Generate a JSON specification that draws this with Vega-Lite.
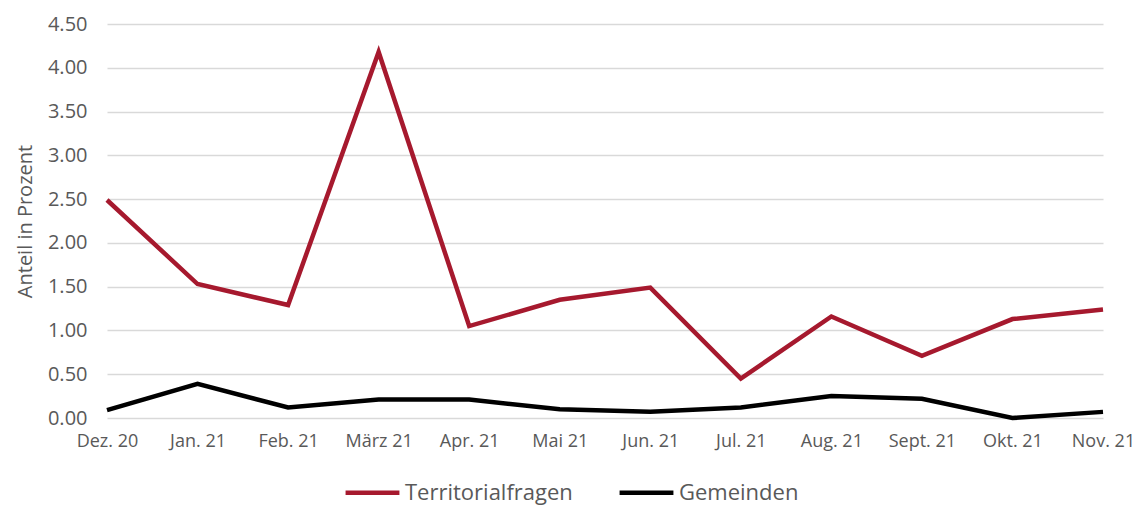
{
  "$schema": "https://vega.github.io/schema/vega-lite/v6.json",
  "width": 996,
  "height": 394,
  "autosize": {"type": "none"},
  "padding": {"left": 107, "top": 24, "right": 34, "bottom": 88},
  "background": "white",
  "config": {"view": {"stroke": null}, "font": "Open Sans"},
  "data": {"values": [
    {"monat": "Dez. 20", "i": 0, "serie": "Territorialfragen", "wert": 2.49},
    {"monat": "Jan. 21", "i": 1, "serie": "Territorialfragen", "wert": 1.53},
    {"monat": "Feb. 21", "i": 2, "serie": "Territorialfragen", "wert": 1.29},
    {"monat": "März 21", "i": 3, "serie": "Territorialfragen", "wert": 4.18},
    {"monat": "Apr. 21", "i": 4, "serie": "Territorialfragen", "wert": 1.05},
    {"monat": "Mai 21", "i": 5, "serie": "Territorialfragen", "wert": 1.35},
    {"monat": "Jun. 21", "i": 6, "serie": "Territorialfragen", "wert": 1.49},
    {"monat": "Jul. 21", "i": 7, "serie": "Territorialfragen", "wert": 0.45},
    {"monat": "Aug. 21", "i": 8, "serie": "Territorialfragen", "wert": 1.16},
    {"monat": "Sept. 21", "i": 9, "serie": "Territorialfragen", "wert": 0.71},
    {"monat": "Okt. 21", "i": 10, "serie": "Territorialfragen", "wert": 1.13},
    {"monat": "Nov. 21", "i": 11, "serie": "Territorialfragen", "wert": 1.24},
    {"monat": "Dez. 20", "i": 0, "serie": "Gemeinden", "wert": 0.09},
    {"monat": "Jan. 21", "i": 1, "serie": "Gemeinden", "wert": 0.39},
    {"monat": "Feb. 21", "i": 2, "serie": "Gemeinden", "wert": 0.12},
    {"monat": "März 21", "i": 3, "serie": "Gemeinden", "wert": 0.21},
    {"monat": "Apr. 21", "i": 4, "serie": "Gemeinden", "wert": 0.21},
    {"monat": "Mai 21", "i": 5, "serie": "Gemeinden", "wert": 0.10},
    {"monat": "Jun. 21", "i": 6, "serie": "Gemeinden", "wert": 0.07},
    {"monat": "Jul. 21", "i": 7, "serie": "Gemeinden", "wert": 0.12},
    {"monat": "Aug. 21", "i": 8, "serie": "Gemeinden", "wert": 0.25},
    {"monat": "Sept. 21", "i": 9, "serie": "Gemeinden", "wert": 0.22},
    {"monat": "Okt. 21", "i": 10, "serie": "Gemeinden", "wert": 0.00},
    {"monat": "Nov. 21", "i": 11, "serie": "Gemeinden", "wert": 0.07}
  ]},
  "mark": {"type": "line", "strokeWidth": 4.5, "strokeJoin": "miter", "strokeCap": "butt"},
  "encoding": {
    "x": {
      "field": "monat", "type": "ordinal",
      "sort": {"field": "i"},
      "scale": {"type": "point", "padding": 0},
      "axis": {"title": null, "labelAngle": 0, "domain": false, "ticks": false, "labelPadding": 14,
               "labelFontSize": 18, "labelColor": "#595959", "grid": false}
    },
    "y": {
      "field": "wert", "type": "quantitative",
      "scale": {"domain": [0, 4.5], "nice": false},
      "axis": {"title": "Anteil in Prozent", "titleFontSize": 20, "titleFontWeight": "normal", "titleColor": "#595959",
               "titlePadding": 12, "values": [0, 0.5, 1, 1.5, 2, 2.5, 3, 3.5, 4, 4.5], "format": ".2f",
               "domain": false, "ticks": false, "labelPadding": 20, "labelFontSize": 20, "labelColor": "#595959",
               "gridColor": "#d9d9d9", "gridWidth": 1.5}
    },
    "color": {
      "field": "serie", "type": "nominal",
      "sort": ["Territorialfragen", "Gemeinden"],
      "scale": {"domain": ["Territorialfragen", "Gemeinden"], "range": ["#A6192E", "#000000"]},
      "legend": {"title": null, "orient": "none", "legendX": 236, "legendY": 439, "direction": "horizontal",
                 "symbolType": "stroke", "symbolSize": 2900, "symbolStrokeWidth": 4.5, "labelFontSize": 22,
                 "labelLimit": 400,
                 "labelColor": "#595959", "columnPadding": 37, "labelOffset": 3}
    }
  }
}
